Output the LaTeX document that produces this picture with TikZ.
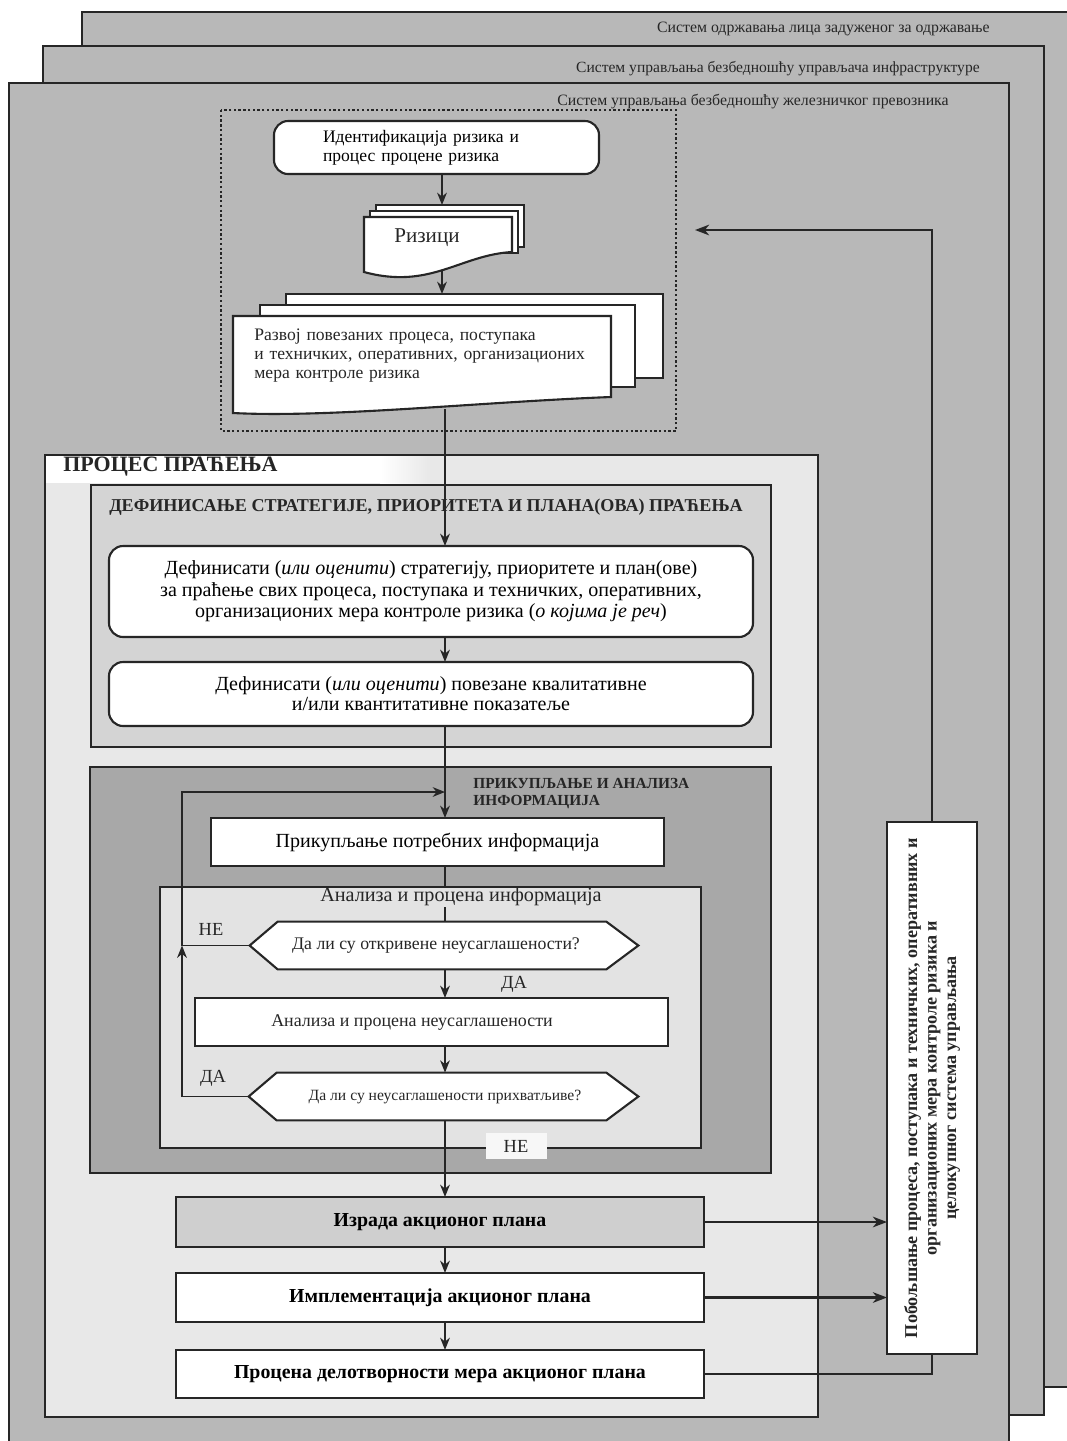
\documentclass[tikz,border=0pt]{standalone}
\usepackage{fontspec}
\setmainfont{Liberation Serif}
\usetikzlibrary{arrows.meta,calc}
\definecolor{sheetgray}{gray}{0.72}
\definecolor{procfill}{gray}{0.91}
\definecolor{deffill}{gray}{0.83}
\definecolor{gathfill}{gray}{0.66}
\definecolor{anafill}{gray}{0.89}
\definecolor{izfill}{gray}{0.81}
\definecolor{ink}{gray}{0.15}
\newcommand{\fsz}[2]{\fontsize{#1}{#2}\selectfont}
\tikzset{
  wh/.style 2 args={minimum width=#1*0.02cm, minimum height=#2*0.02cm},
  sheet/.style={draw=ink, line width=1.3pt, fill=sheetgray},
  box/.style={draw=ink, line width=1.2pt, fill=white, inner sep=0pt, outer sep=0pt},
  rbox/.style={box, rounded corners=8pt},
  frame/.style={draw=ink, line width=1.1pt, inner sep=0pt, outer sep=0pt},
  conn/.style={draw=ink, line width=1pt},
  thick conn/.style={draw=ink, line width=1.3pt},
  arr/.style={conn, -{Stealth[length=7pt,width=5.5pt,inset=2.2pt]}},
  tarr/.style={thick conn, -{Stealth[length=8pt,width=6pt,inset=2.4pt]}},
  docline/.style={draw=ink, line width=1.2pt, fill=white},
  txt/.style={inner sep=0pt, text=ink},
}
\begin{document}
\begin{tikzpicture}[x=0.02cm, y=-0.02cm]
\useasboundingbox (0,0) rectangle (1067,1441);
\fill[white] (0,0) rectangle (1067,1441);

% stacked sheets
\draw[sheet] (82,12) rectangle (1080,1387);
\node[txt, anchor=east, font=\fsz{9}{10}] (t1) at (990,29) {Систем одржавања лица задуженог за одржавање};
\draw[sheet] (43,46) rectangle (1044,1415);
\node[txt, anchor=east, font=\fsz{8.85}{10}] (t2) at (980,69) {Систем управљања безбедношћу управљача инфраструктуре};
\draw[sheet] (9,83) rectangle (1009,1460);
\node[txt, anchor=east, font=\fsz{9}{10}] (t3) at (949,102) {Систем управљања безбедношћу железничког превозника};

% dotted box
\draw[ink, line width=1.3pt, dash pattern=on 1.3pt off 1.4pt] (221,110) rectangle (676,431);

% box 1
\node[rbox, wh={325}{53}, text width=227*0.02cm, inner xsep=49*0.02cm, align=left, font=\fsz{10}{10.8}] (b1) at (436.5,147.5)
  {Идентификација ризика и\\процес процене ризика};

% Rizici multi-document
\draw[docline] (376,247) -- (376,205) -- (524,205) -- (524,247) -- cycle;
\draw[docline] (370,253) -- (370,211) -- (518,211) -- (518,253) -- cycle;
\draw[docline] (364,272) -- (364,217) -- (512,217) -- (512,252) .. controls (460,255) and (430,290) .. (364,272) -- cycle;
\node[txt, font=\fsz{12}{13}] (r) at (427,238) {Ризици};
\coordinate (rtop) at (442,205);
\coordinate (rbot) at (442,270);

% development multi-document
\draw[docline] (286,378) -- (286,294) -- (663,294) -- (663,378) -- cycle;
\draw[docline] (260,387) -- (260,305) -- (635,305) -- (635,387) -- cycle;
\draw[docline] (233,413) -- (233,316) -- (611,316) -- (611,397) .. controls (480,402) and (330,418) .. (233,413) -- cycle;
\node[txt, anchor=west, text width=360*0.02cm, align=left, font=\fsz{10}{10.8}] (dev) at (254,356)
  {Развој повезаних процеса, поступака\\и техничких, оперативних, организационих\\мера контроле ризика};
\coordinate (devtop) at (442,294);
\coordinate (devb) at (445,409);

% process box
\node[frame, fill=procfill, wh={773}{962}] (proc) at (431.5,936) {};
\fill[white] (46,456) rectangle (380,483);
\shade[left color=white, right color=procfill] (380,456) rectangle (430,483);
\node[txt, anchor=west, font=\bfseries\fsz{12.5}{14}] (proct) at (63,467) {ПРОЦЕС ПРАЋЕЊА};

% definition box
\node[frame, fill=deffill, wh={680}{262}] (def) at (431,616) {};
\node[txt, font=\bfseries\fsz{10.3}{11}] (deft) at (426,507) {ДЕФИНИСАЊЕ СТРАТЕГИЈЕ, ПРИОРИТЕТА И ПЛАНА(ОВА) ПРАЋЕЊА};
\node[rbox, wh={644}{91}, align=center, font=\fsz{11.4}{12.3}] (A) at (431,591.5)
  {Дефинисати (\textit{или оценити}) стратегију, приоритете и план(ове)\\за праћење свих процеса, поступака и техничких, оперативних,\\организационих мера контроле ризика (\textit{о којима је реч})};
\node[rbox, wh={644}{64}, align=center, font=\fsz{11.4}{11.5}] (B) at (431,694)
  {Дефинисати (\textit{или оценити}) повезане квалитативне\\и/или квантитативне показатеље};

% gathering box
\node[frame, fill=gathfill, wh={681}{406}] (gath) at (430.5,970) {};
\node[txt, anchor=west, align=left, font=\bfseries\fsz{8.75}{9.7}] (gatht) at (473,793.5) {ПРИКУПЉАЊЕ И АНАЛИЗА\\ИНФОРМАЦИЈА};
\node[box, wh={453}{48}, font=\fsz{11.4}{13}] (g1) at (437.5,842) {Прикупљање потребних информација};

% analysis box
\node[frame, fill=anafill, wh={541}{261}] (ana) at (430.5,1017.5) {};
\node[txt, font=\fsz{11.5}{13}] (anat) at (461,897) {Анализа и процена информација};
\coordinate (tick) at (445,907);

% decision 1
\node[txt, wh={388}{47}] (d1) at (444,945.5) {};
\draw[docline] (d1.west) -- ($(d1.north west)+(28,0)$) -- ($(d1.north east)+(-32,0)$) -- (d1.east) -- ($(d1.south east)+(-32,0)$) -- ($(d1.south west)+(28,0)$) -- cycle;
\node[txt, font=\fsz{10.1}{11}] (d1t) at (436,946) {Да ли су откривене неусаглашености?};

% box 2
\node[box, wh={473}{48}] (box2) at (431.5,1022) {};
\node[txt, font=\fsz{10.2}{11}] (box2t) at (412,1023) {Анализа и процена неусаглашености};

% decision 2
\node[txt, wh={389}{47}] (d2) at (443.5,1096.5) {};
\draw[docline] (d2.west) -- ($(d2.north west)+(28,0)$) -- ($(d2.north east)+(-32,0)$) -- (d2.east) -- ($(d2.south east)+(-32,0)$) -- ($(d2.south west)+(28,0)$) -- cycle;
\node[txt, font=\fsz{8.9}{10}] (d2t) at (445,1097) {Да ли су неусаглашености прихватљиве?};

% labels
\node[txt, font=\fsz{10.5}{11}] (ne1) at (211,929) {НЕ};
\node[txt, font=\fsz{10.5}{11}] (da1) at (514,984) {ДА};
\node[txt, font=\fsz{10.5}{11}] (da2) at (213,1078) {ДА};
\node[txt, fill=white!94!gray, wh={61}{26}, font=\fsz{10.5}{11}] (ne2) at (516,1146) {НЕ};

% action boxes
\node[box, fill=izfill, wh={528}{50}, font=\bfseries\fsz{11.3}{12}] (iz) at (440,1222) {Израда акционог плана};
\node[box, wh={528}{49}, font=\bfseries\fsz{11.3}{12}] (im) at (440,1297.5) {Имплементација акционог плана};
\node[box, wh={528}{48}, font=\bfseries\fsz{11.3}{12}] (pr) at (440,1374) {Процена делотворности мера акционог плана};

% improvement box
\node[box, wh={90}{532}] (rbx) at (932,1088) {};
\node[txt, rotate=90, align=center, font=\bfseries\fsz{10.3}{11.1}] (rbxt) at (rbx.center)
  {Побољшање процеса, поступака и техничких, оперативних и\\организационих мера контроле ризика и\\целокупног система управљања};
\coordinate (fbtop) at (695,230);

% connectors
\draw[arr] (b1.south -| rtop) -- (rtop);
\draw[arr] (rbot) -- (devtop);
\draw[arr] (devb) -- (devb |- A.north);
\draw[arr] (A.south -| devb) -- (B.north -| devb);
\draw[arr] (B.south -| devb) -- (g1.north -| devb);
\draw[conn] (g1.south -| devb) -- (ana.north -| devb);
\draw[conn] (tick) -- (d1.north -| devb);
\draw[arr] (d1.south -| devb) -- (box2.north -| devb);
\draw[arr] (box2.south -| devb) -- (d2.north -| devb);
\draw[arr] (d2.south -| devb) -- (iz.north -| devb);
\draw[arr] (iz.south -| devb) -- (im.north -| devb);
\draw[arr] (im.south -| devb) -- (pr.north -| devb);
\coordinate (lx) at (182,792);
\coordinate (fb) at (445,792);
\draw[arr] (d2.west) -- (d2.west -| lx) -- (d1.west -| lx);
\draw[arr] (d1.west) -- (d1.west -| lx) -- (lx) -- (fb);
\draw[tarr] (iz.east) -- (iz.east -| rbx.west);
\draw[tarr] (im.east) -- (im.east -| rbx.west);
\draw[thick conn] (pr.east) -- (pr.east -| rbx.south) -- (rbx.south);
\draw[tarr] (rbx.north) -- (rbx.north |- fbtop) -- (fbtop);
\end{tikzpicture}
\end{document}
